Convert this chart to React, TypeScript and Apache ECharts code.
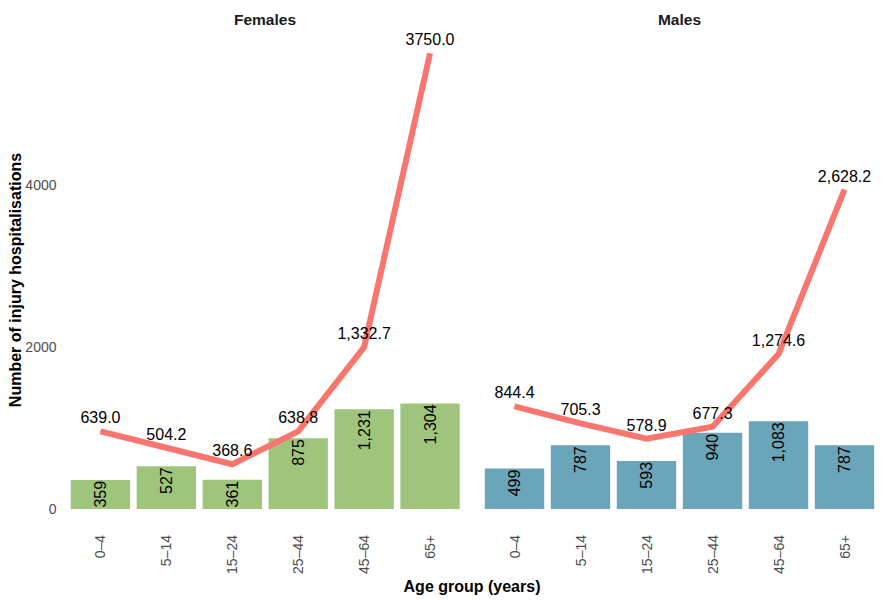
import React, { useEffect, useRef } from "react";
import * as echarts from "echarts";

// Age groups shared by both panels
const ageGroups = ["0–4", "5–14", "15–24", "25–44", "45–64", "65+"];

// Number of injury hospitalisations (bars)
const femaleCounts = [359, 527, 361, 875, 1231, 1304];
const maleCounts = [499, 787, 593, 940, 1083, 787];

// Hospitalisation rates as printed above the line
const femaleRateText = ["639.0", "504.2", "368.6", "638.8", "1,332.7", "3750.0"];
const maleRateText = ["844.4", "705.3", "578.9", "677.3", "1,274.6", "2,628.2"];

// Rates are drawn on the count axis scaled by this factor
const rateScale = 1.5;

const panelTitles = ["Females", "Males"];
const yTicks = [0, 2000, 4000];

const FONT = "Liberation Sans, Arial, sans-serif";
const GREEN = "#9FC57D";
const TEAL = "#6AA5B9";
const RED = "#F8766D";

const parseRate = (s: string) => parseFloat(s.replace(/,/g, ""));
const fmtCount = (v: number) => v.toLocaleString("en-US");

export default function App() {
  const ref = useRef<HTMLDivElement>(null);

  useEffect(() => {
    if (!ref.current) return;
    const chart = echarts.init(ref.current, null, { renderer: "svg" });

    const grids = [
      { left: 67.5, width: 395.5, top: 23, height: 486 },
      { left: 481.5, width: 396, top: 23, height: 486 },
    ];
    const panelCenters = [265, 679.5];

    const xAxis = grids.map((_, i) => ({
      type: "category",
      gridIndex: i,
      data: ageGroups,
      boundaryGap: true,
      axisLine: { show: false },
      axisTick: { show: false },
      axisLabel: {
        rotate: 90,
        margin: 26,
        fontSize: 14,
        color: "#4D4D4D",
        fontFamily: FONT,
      },
    }));

    const yAxis = grids.map((_, i) => ({
      type: "value",
      gridIndex: i,
      min: 0,
      max: 6000,
      axisLine: { show: false },
      axisTick: { show: false },
      splitLine: { show: false },
      axisLabel: {
        show: i === 0,
        customValues: yTicks,
        formatter: (v: number) => String(v),
        margin: 11,
        fontSize: 14,
        color: "#4D4D4D",
        fontFamily: FONT,
      },
    }));

    const barSeries = (data: number[], idx: number, color: string) => ({
      type: "bar",
      xAxisIndex: idx,
      yAxisIndex: idx,
      data,
      barWidth: "90%",
      itemStyle: { color },
      z: 2,
      label: {
        show: true,
        position: "insideTop",
        distance: 1,
        rotate: 90,
        align: "right",
        verticalAlign: "middle",
        fontSize: 16,
        color: "#000",
        fontFamily: FONT,
        formatter: (p: any) => fmtCount(p.value),
      },
    });

    const lineSeries = (texts: string[], idx: number) => ({
      type: "line",
      xAxisIndex: idx,
      yAxisIndex: idx,
      data: texts.map((t) => parseRate(t) * rateScale),
      showSymbol: true,
      symbol: "circle",
      symbolSize: 1,
      itemStyle: { color: RED },
      lineStyle: { color: RED, width: 6, cap: "butt", join: "miter" },
      z: 3,
      label: {
        show: true,
        position: "top",
        distance: 5,
        fontSize: 16,
        color: "#000",
        fontFamily: FONT,
        formatter: (p: any) => texts[p.dataIndex],
      },
      labelLayout: { hideOverlap: false },
    });

    chart.setOption({
      animation: false,
      backgroundColor: "#fff",
      textStyle: { fontFamily: FONT },
      grid: grids,
      xAxis,
      yAxis,
      title: panelTitles.map((t, i) => ({
        text: t,
        left: panelCenters[i],
        top: 11,
        padding: 0,
        textAlign: "center",
        textStyle: {
          fontSize: 15.5,
          fontWeight: "bold",
          color: "#1A1A1A",
          fontFamily: FONT,
        },
      })),
      graphic: [
        {
          type: "text",
          x: 15,
          y: 280,
          rotation: Math.PI / 2,
          style: {
            text: "Number of injury hospitalisations",
            fontSize: 16,
            fontWeight: "bold",
            fill: "#000",
            fontFamily: FONT,
            align: "center",
            verticalAlign: "middle",
          },
        },
        {
          type: "text",
          x: 472,
          y: 586,
          style: {
            text: "Age group (years)",
            fontSize: 16,
            fontWeight: "bold",
            fill: "#000",
            fontFamily: FONT,
            align: "center",
            verticalAlign: "middle",
          },
        },
      ],
      series: [
        barSeries(femaleCounts, 0, GREEN),
        lineSeries(femaleRateText, 0),
        barSeries(maleCounts, 1, TEAL),
        lineSeries(maleRateText, 1),
      ],
    });

    return () => chart.dispose();
  }, []);

  return (
    <div
      ref={ref}
      style={{ position: "absolute", left: 0, top: 0, width: 890, height: 600 }}
    />
  );
}
